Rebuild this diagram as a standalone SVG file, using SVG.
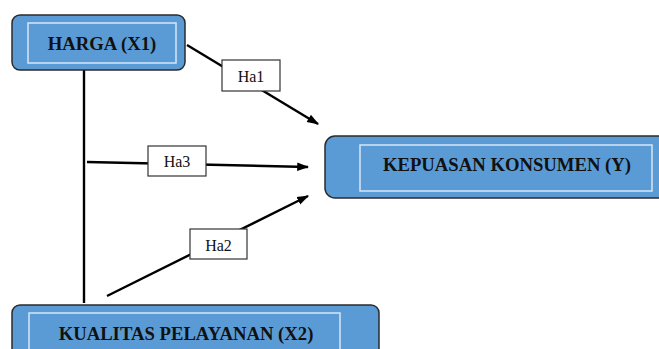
<svg xmlns="http://www.w3.org/2000/svg" width="659" height="349" viewBox="0 0 659 349">
<style>
.box{fill:#5b9bd5;stroke:#2b2b2b;stroke-width:1.5}
.inner{fill:none;stroke:#d6e6f6;stroke-width:1.5}
.t{font-family:"Liberation Serif",serif;font-weight:bold;font-size:18.7px;fill:#111;text-anchor:middle}
.lbl{fill:#fff;stroke:#333;stroke-width:1.2}
.lt{font-family:"Liberation Serif",serif;font-size:16px;fill:#111;text-anchor:middle}
.c{stroke:#000;stroke-width:2.4;fill:none}
</style>
<defs>
<marker id="ah" viewBox="0 0 10 10" refX="9" refY="5" markerWidth="5" markerHeight="5" markerUnits="strokeWidth" orient="auto">
<path d="M0,1.5 L10,5 L0,8.5 z" fill="#000"/>
</marker>
</defs>
<rect width="659" height="349" fill="#fff"/>
<g id="connectors">
<line class="c" x1="84" y1="70" x2="84" y2="303"/>
<line class="c" x1="87" y1="162" x2="308" y2="167" marker-end="url(#ah)"/>
<line class="c" x1="187" y1="45" x2="318" y2="124" marker-end="url(#ah)"/>
<line class="c" x1="107" y1="296" x2="308" y2="196" marker-end="url(#ah)"/>
<g id="lbl-ha1"><rect class="lbl" x="222" y="60" width="58" height="31"/><text class="lt" x="251" y="82">Ha1</text></g>
<g id="lbl-ha3"><rect class="lbl" x="148" y="146" width="58" height="30"/><text class="lt" x="177" y="167">Ha3</text></g>
<g id="lbl-ha2"><rect class="lbl" x="190" y="229" width="57" height="30"/><text class="lt" x="218.5" y="251">Ha2</text></g>
</g>
<g id="harga">
<rect class="box" x="12" y="15" width="173" height="55" rx="8"/>
<rect class="inner" x="28" y="23" width="148" height="40"/>
<text class="t" x="102" y="50">HARGA (X1)</text>
</g>
<g id="kepuasan">
<rect class="box" x="325" y="136" width="345" height="62" rx="10"/>
<rect class="inner" x="360" y="145" width="292" height="46"/>
<text class="t" x="507" y="171">KEPUASAN KONSUMEN (Y)</text>
</g>
<g id="kualitas">
<rect class="box" x="12" y="305" width="367" height="60" rx="8"/>
<rect class="inner" x="29" y="313" width="311" height="50"/>
<text class="t" x="186" y="340">KUALITAS PELAYANAN (X2)</text>
</g>
</svg>
